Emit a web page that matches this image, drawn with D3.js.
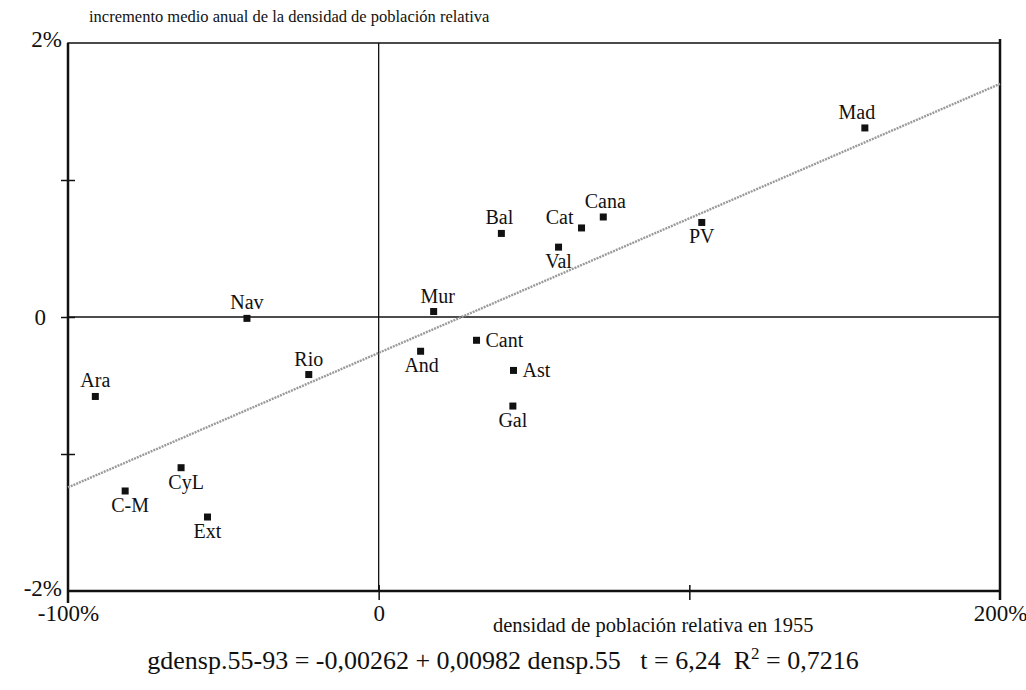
<!DOCTYPE html>
<html><head><meta charset="utf-8">
<script src="https://cdn.jsdelivr.net/npm/d3@7"></script>
<style>body{margin:0;background:#fff}svg{display:block}svg text{font-family:'Liberation Serif','Times New Roman',serif}</style>
</head><body>
<svg id="c" width="1026" height="690"></svg>
<script>
// Data (x: densidad relativa 1955 en %, y: incremento medio anual en %)
const regions = ["Mad","PV","Cana","Cat","Bal","Val","Mur","Cant","And","Ast","Gal","Nav","Rio","Ara","CyL","C-M","Ext"];
const densRel55 = [156.5, 104, 72.3, 65.3, 39.5, 57.9, 17.7, 31.5, 13.5, 43.4, 43.2, -42.4, -22.5, -91.2, -63.6, -81.6, -55.1];
const gDens = [1.38, 0.69, 0.73, 0.65, 0.61, 0.51, 0.04, -0.17, -0.25, -0.39, -0.65, -0.01, -0.42, -0.58, -1.10, -1.27, -1.46];
const fitX = [-100, 200];
const fitY = [-1.244, 1.702];
const xTicks = [-100, 0, 100, 200];
const xTickLabels = ["-100%", "0", "", "200%"];
const yTicks = [-2, -1, 0, 1, 2];
const yTickLabels = ["-2%", "", "0", "", "2%"];
const yTitle = "incremento medio anual de la densidad de población relativa";
const xTitle = "densidad de población relativa en 1955";
const equation = "gdensp.55-93 = -0,00262 + 0,00982 densp.55   t = 6,24  R";

// label placement (style)
const place = {
  "Mad":["a",-8],"PV":["b",0],"Cana":["a",2],"Cat":["l",0],"Bal":["a",-2],"Val":["b",0],
  "Mur":["a",4],"Cant":["r",0],"And":["b",1],"Ast":["r",0],"Gal":["b",0],"Nav":["a",0],
  "Rio":["a",0],"Ara":["a",0],"CyL":["b",5],"C-M":["b",5],"Ext":["b",0]
};

const svg = d3.select("#c");
const font = "'Liberation Serif', 'Times New Roman', serif";
const L = 68, R = 1000, T = 43, B = 591;
const x = d3.scaleLinear().domain([-100, 200]).range([L, R]);
const y = d3.scaleLinear().domain([-2, 2]).range([B, T]);

// frame
svg.append("rect").attr("x", L).attr("y", T).attr("width", R - L).attr("height", B - T)
  .attr("fill", "none").attr("stroke", "#111").attr("stroke-width", 1.5);
svg.append("line").attr("x1", L).attr("x2", L).attr("y1", T).attr("y2", B + 12).attr("stroke", "#111").attr("stroke-width", 2.5);
svg.append("line").attr("x1", R).attr("x2", R).attr("y1", T - 4).attr("y2", B + 9).attr("stroke", "#111").attr("stroke-width", 2.5);
svg.append("line").attr("x1", L).attr("x2", R).attr("y1", B).attr("y2", B).attr("stroke", "#111").attr("stroke-width", 2.5);
// zero lines
svg.append("line").attr("x1", x(0)).attr("x2", x(0)).attr("y1", T).attr("y2", B).attr("stroke", "#111").attr("stroke-width", 1.3);
svg.append("line").attr("x1", L).attr("x2", R).attr("y1", y(0)).attr("y2", y(0)).attr("stroke", "#111").attr("stroke-width", 1.3);

// axes
const yAxis = d3.axisLeft(y).tickValues(yTicks).tickSize(6)
  .tickFormat((d, i) => yTickLabels[i]);
const gy = svg.append("g").attr("transform", `translate(${L},0)`).call(yAxis);
gy.attr("font-family", null);
gy.select(".domain").remove();
gy.selectAll(".tick line").attr("x1", -7).attr("x2", 7).attr("stroke", "#111").attr("stroke-width", 1.5)
  .filter(d => Math.abs(d) === 2).remove();
gy.selectAll(".tick text").style("font-family", font).attr("font-size", 23).attr("fill", "#111").attr("x", -6);
gy.selectAll(".tick").filter(d => d === 2).select("text").attr("dy", "0.15em");
gy.selectAll(".tick").filter(d => d === -2).select("text").attr("dy", "0.2em");
gy.selectAll(".tick").filter(d => d === 0).select("text").attr("x", -22);

const xAxis = d3.axisBottom(x).tickValues(xTicks).tickSize(8)
  .tickFormat((d, i) => xTickLabels[i]);
const gx = svg.append("g").attr("transform", `translate(0,${B})`).call(xAxis);
gx.attr("font-family", null);
gx.select(".domain").remove();
gx.selectAll(".tick line").attr("y1", -6).attr("y2", 9).attr("stroke", "#111").attr("stroke-width", 1.5)
  .filter(d => d === -100 || d === 200).remove();
gx.selectAll(".tick text").style("font-family", font).attr("font-size", 23).attr("fill", "#111").attr("y", 14);

// titles
svg.append("text").attr("x", 89).attr("y", 22).style("font-family", font).attr("font-size", 16.5).attr("fill", "#111").text(yTitle);
svg.append("text").attr("x", 493).attr("y", 632).style("font-family", font).attr("font-size", 20.5).attr("fill", "#111").text(xTitle);

// regression line
svg.append("line").attr("x1", x(fitX[0])).attr("y1", y(fitY[0])).attr("x2", x(fitX[1])).attr("y2", y(fitY[1]))
  .attr("stroke", "#9a9a9a").attr("stroke-width", 2.4).attr("stroke-dasharray", "2 1");

// points
const pts = regions.map((n, i) => ({n, x: densRel55[i], y: gDens[i]}));
svg.selectAll("rect.pt").data(pts).join("rect").attr("class", "pt")
  .attr("x", d => x(d.x) - 3.5).attr("y", d => y(d.y) - 3.5).attr("width", 7).attr("height", 7).attr("fill", "#111");

svg.selectAll("text.lab").data(pts).join("text").attr("class", "lab")
  .style("font-family", font).attr("font-size", 20).attr("fill", "#111")
  .each(function(d) {
    const [p, dx] = place[d.n];
    const px = x(d.x), py = y(d.y);
    const t = d3.select(this).text(d.n);
    if (p === "a") t.attr("x", px + dx).attr("y", py - 9).attr("text-anchor", "middle");
    else if (p === "b") t.attr("x", px + dx).attr("y", py + 21).attr("text-anchor", "middle");
    else if (p === "l") t.attr("x", px - 8).attr("y", py - 4).attr("text-anchor", "end");
    else t.attr("x", px + 9).attr("y", py + 7).attr("text-anchor", "start");
  });

// equation
const eq = svg.append("text").attr("x", 503).attr("y", 669).attr("text-anchor", "middle")
  .style("font-family", font).attr("font-size", 26).attr("fill", "#111").attr("xml:space", "preserve");
eq.append("tspan").text(equation);
eq.append("tspan").attr("font-size", 17).attr("dy", -10).text("2");
eq.append("tspan").attr("dy", 10).text(" = 0,7216");
</script>
</body></html>
